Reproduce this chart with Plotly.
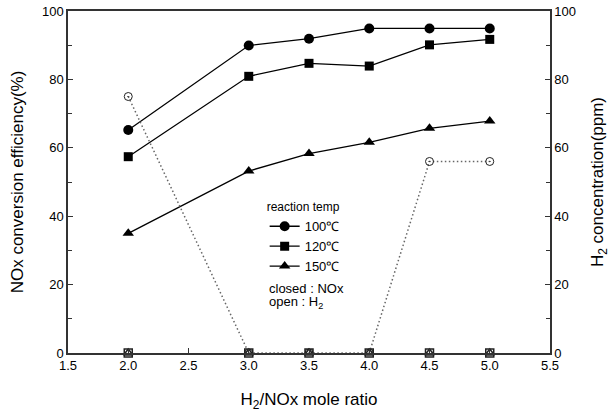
import plotly.graph_objects as go

ratio = [2.0, 3.0, 3.5, 4.0, 4.5, 5.0]
nox_100 = [65.2, 89.9, 91.9, 94.9, 94.9, 94.9]
nox_120 = [57.4, 80.9, 84.7, 83.9, 90.1, 91.7]
nox_150 = [35.0, 53.2, 58.3, 61.6, 65.7, 67.8]
h2_100 = [75, 0, 0, 0, 56, 56]
h2_120 = [0, 0, 0, 0, 0, 0]
h2_150 = [0, 0, 0, 0, 0, 0]
temps = ["100℃", "120℃", "150℃"]

FONT = "Liberation Sans, Arial, sans-serif"
fig = go.Figure()

fig.add_trace(go.Scatter(x=ratio, y=h2_100, mode="lines+markers", yaxis="y2",
                         line=dict(color="#666666", width=1.5, dash="1.5px,2.5px"),
                         marker=dict(symbol="circle-open-dot", size=8, color="#222222", line=dict(width=1)),
                         showlegend=False))
fig.add_trace(go.Scatter(x=ratio, y=h2_120, mode="markers", yaxis="y2",
                         marker=dict(symbol="square-open", size=8, color="#222222", line=dict(width=1.5)),
                         showlegend=False, cliponaxis=False))
fig.add_trace(go.Scatter(x=ratio, y=h2_150, mode="markers", yaxis="y2",
                         marker=dict(symbol="triangle-up-open", size=8, color="#222222", line=dict(width=1.5)),
                         showlegend=False, cliponaxis=False))

for vals, sym, name, sz in [(nox_100, "circle", temps[0], 10),
                            (nox_120, "square", temps[1], 9),
                            (nox_150, "triangle-up", temps[2], 10)]:
    fig.add_trace(go.Scatter(x=ratio, y=vals, mode="lines+markers", name=name,
                             line=dict(color="black", width=1.3),
                             marker=dict(symbol=sym, size=sz, color="black")))

fig.update_layout(
    width=613, height=412,
    margin=dict(l=68, r=63, t=11, b=59, autoexpand=False),
    paper_bgcolor="white", plot_bgcolor="white",
    font=dict(family=FONT, size=13, color="black"),
    xaxis=dict(range=[1.5, 5.5], dtick=0.5, tick0=1.5, tickformat=".1f", automargin=False,
               showline=True, linecolor="#333333", linewidth=1.5, mirror=True,
               ticks="inside", ticklen=5, tickcolor="#333333", showgrid=False, zeroline=False,
               title=dict(text="H<sub>2</sub>/NOx mole ratio", font=dict(size=17), standoff=22)),
    yaxis=dict(range=[0, 100], dtick=20, showline=True, linecolor="#333333", linewidth=1.5, automargin=False,
               ticks="inside", ticklen=5, tickcolor="#333333", showgrid=False, zeroline=False,
               minor=dict(dtick=10, ticks="inside", ticklen=4, tickcolor="#333333"),
               title=dict(text="NOx conversion efficiency(%)", font=dict(size=17), standoff=14)),
    yaxis2=dict(range=[0, 100], dtick=20, overlaying="y", side="right", automargin=False,
                showline=True, linecolor="#333333", linewidth=1.5,
                ticks="inside", ticklen=5, tickcolor="#333333", showgrid=False, zeroline=False,
                minor=dict(dtick=10, ticks="inside", ticklen=4, tickcolor="#333333"),
                title=dict(text="H<sub>2</sub> concentration(ppm)", font=dict(size=17), standoff=16)),
    legend=dict(x=0.408, y=0.46, xanchor="left", yanchor="top", bgcolor="rgba(0,0,0,0)",
                font=dict(size=13), title=dict(text="reaction temp", font=dict(size=12)),
                tracegroupgap=0),
    annotations=[
        dict(text="closed : NOx", x=0.413, y=0.19, xref="paper", yref="paper",
             xanchor="left", yanchor="middle", showarrow=False, font=dict(size=13)),
        dict(text="open : H<sub>2</sub>", x=0.413, y=0.149, xref="paper", yref="paper",
             xanchor="left", yanchor="middle", showarrow=False, font=dict(size=13)),
    ],
)

fig.write_html("out.html")
